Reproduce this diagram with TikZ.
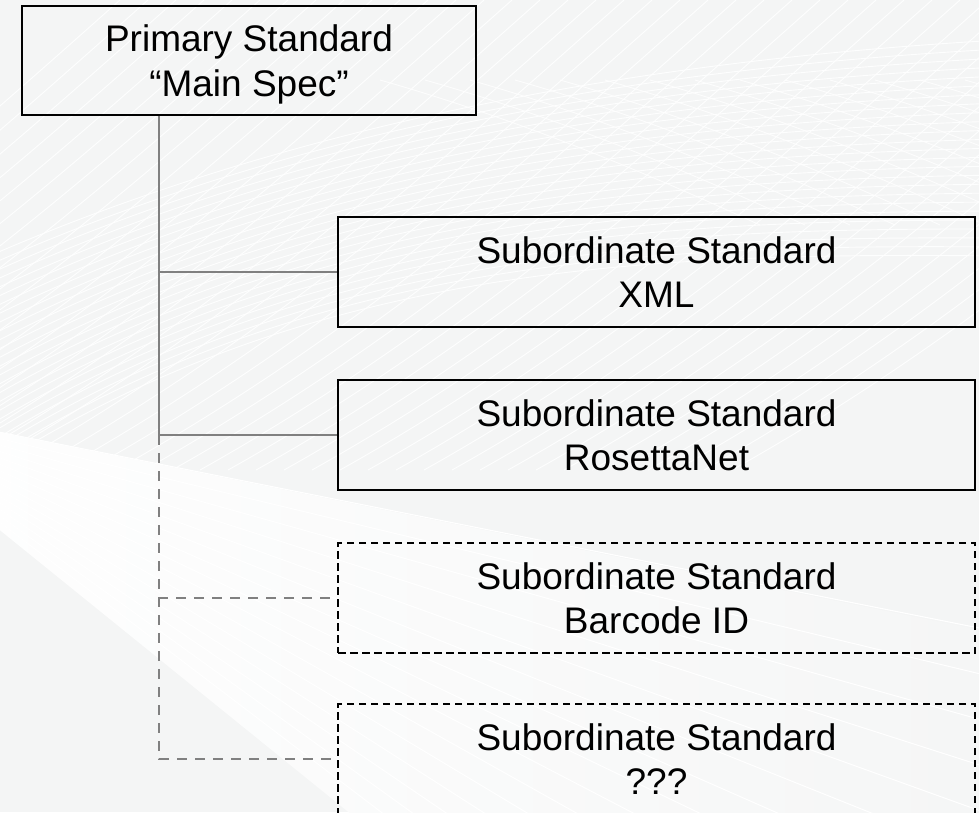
\documentclass[tikz,border=0pt]{standalone}
\usepackage{fontspec}
\setmainfont{Liberation Sans}
\usepackage{tikz}
\usetikzlibrary{calc}
\definecolor{fondogris}{RGB}{244,245,245}
\definecolor{enlacegris}{RGB}{128,128,128}

\begin{document}
\begin{tikzpicture}[x=1pt, y=-1pt,
    stdbox/.style={draw=black, line width=1.8pt, align=center, inner sep=0pt,
        font=\fontsize{37}{44.5}\selectfont, text depth=0pt},
    subbox/.style={stdbox, minimum width=637pt, minimum height=110pt},
    planned/.style={dash pattern=on 7.5pt off 4.5pt},
    link/.style={enlacegris, line width=2pt},
    plannedlink/.style={link, dash pattern=on 10pt off 8pt}]
    \useasboundingbox (0,0) rectangle (979,812);
    \clip (0,0) rectangle (979,812);
    % background
    \fill[fondogris] (0,0) rectangle (979,812);
    \foreach \k in {0,...,44}
        \draw[white, line width=0.9pt, opacity=0.9]
            (\k*28-500,470) .. controls (\k*28-250,330) and (\k*28-60,160) .. (\k*28+120,0);
    \foreach \k in {0,...,24}
        \draw[white, line width=0.9pt, opacity=0.9]
            (-20,260+\k*9) .. controls (300,120+\k*6) and (650,60+\k*8) .. (1000,40+\k*9);
    \foreach \k in {0,...,14}
        \draw[white, line width=0.9pt, opacity=0.8]
            (380+\k*45,80) .. controls (520+\k*45,120) and (640+\k*45,170) .. (760+\k*45,225);
    \shade[left color=white, right color=fondogris] (-161,400) -- (1100,654) -- (1100,1420) -- cycle;
    \foreach \s in {0.20,0.24,...,0.80}
        \draw[white, line width=1pt] (-161,400) -- ++(1300,1300*\s);
    % boxes
    \node[stdbox, minimum width=454pt, minimum height=109pt] (primary) at (249,60.5)
        {Primary Standard\\“Main Spec”};
    \node[subbox] (xml) at (656.5,272) {Subordinate Standard\\XML};
    \node[subbox] (rosetta) at (656.5,435) {Subordinate Standard\\RosettaNet};
    \node[subbox, planned] (barcode) at (656.5,598) {Subordinate Standard\\Barcode ID};
    \node[subbox, planned] (unknown) at (656.5,759) {Subordinate Standard\\???};
    % connectors
    \coordinate (trunk) at ([xshift=138pt]primary.south west);
    \draw[link] (trunk) |- (xml.west);
    \draw[link] (trunk) |- (rosetta.west);
    \coordinate (split) at (trunk |- rosetta.west);
    \draw[plannedlink] (split) |- (barcode.west);
    \draw[plannedlink] (split) |- (unknown.west);
\end{tikzpicture}
\end{document}
